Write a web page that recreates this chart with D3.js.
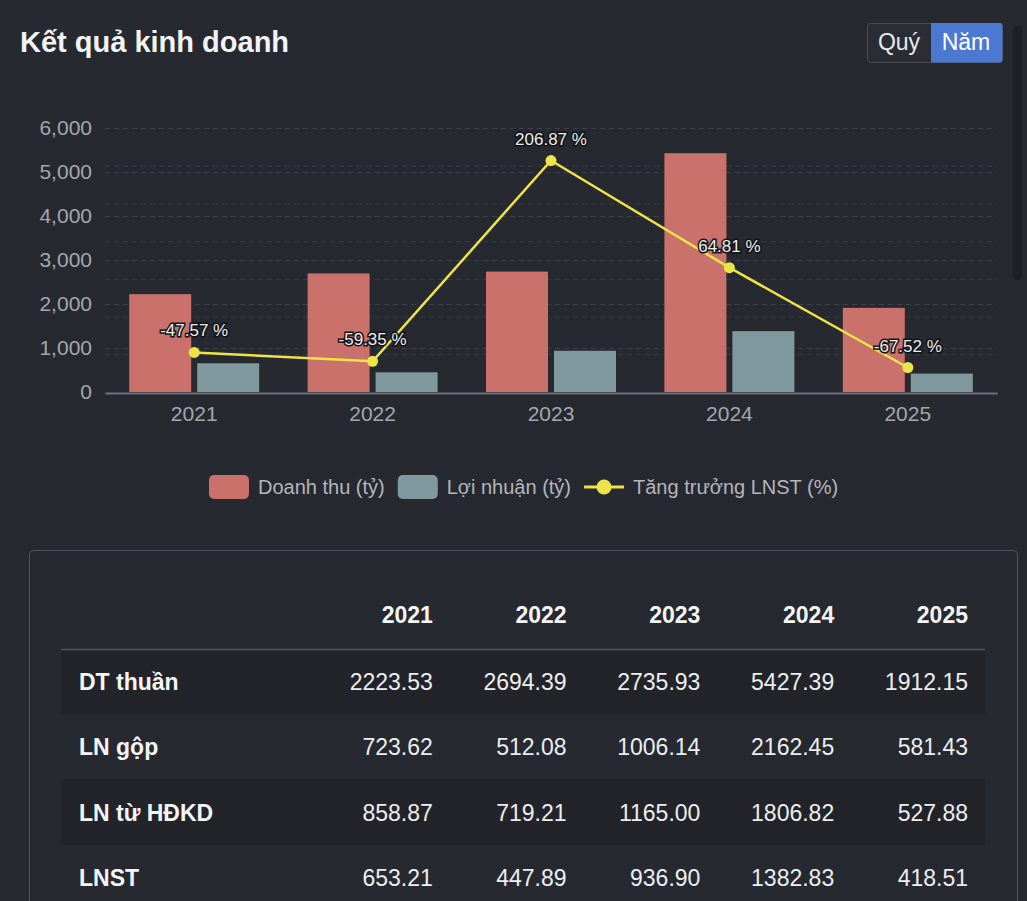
<!DOCTYPE html>
<html>
<head>
<meta charset="utf-8">
<script src="https://cdn.jsdelivr.net/npm/d3@7/dist/d3.min.js"></script>
<style>
  html, body { margin: 0; padding: 0; background: #262930; overflow: hidden; }
  svg { display: block; font-family: "Liberation Sans", Arial, sans-serif; }
</style>
</head>
<body>
<div id="chart"></div>
<script>
// data
const years = ["2021", "2022", "2023", "2024", "2025"];
const revenue = [2223.53, 2694.39, 2735.93, 5427.39, 1912.15];
const profit = [653.21, 447.89, 936.90, 1382.83, 418.51];
const growth = [-47.57, -59.35, 206.87, 64.81, -67.52];
const grossProfit = [723.62, 512.08, 1006.14, 2162.45, 581.43];
const opProfit = [858.87, 719.21, 1165.00, 1806.82, 527.88];
const yTicks = [0, 1000, 2000, 3000, 4000, 5000, 6000];
const growthTicks = [-100, -50, 0, 50, 100, 150, 200, 250];
const legendLabels = ["Doanh thu (tỷ)", "Lợi nhuận (tỷ)", "Tăng trưởng LNST (%)"];
const rowLabels = ["DT thuần", "LN gộp", "LN từ HĐKD", "LNST"];
const rowValues = [revenue, grossProfit, opProfit, profit];

const W = 1027, H = 901;
const RED = "#c9716a", GREY = "#7f999f", YEL = "#ede548";

var svg = d3.select("#chart").append("svg")
    .attr("width", W)
    .attr("height", H);

// title + buttons
svg.append("text")
  .attr("x", 20).attr("y", 52)
  .attr("fill", "#f2f3f5")
  .attr("font-size", 29).attr("font-weight", "bold")
  .text("Kết quả kinh doanh");

svg.append("rect")
  .attr("x", 867.5).attr("y", 23.5).attr("width", 135).attr("height", 39).attr("rx", 3)
  .attr("fill", "#2a2d34").attr("stroke", "#4a4d55");
svg.append("path")
  .attr("d", "M931,23 H999.5 A3,3 0 0 1 1002.5,26 V59.5 A3,3 0 0 1 999.5,62.5 H931 Z")
  .attr("fill", "#4b79d1");
svg.append("text").attr("x", 899).attr("y", 50).attr("text-anchor", "middle")
  .attr("fill", "#e8e9eb").attr("font-size", 23).text("Quý");
svg.append("text").attr("x", 966).attr("y", 50).attr("text-anchor", "middle")
  .attr("fill", "#ffffff").attr("font-size", 23).text("Năm");

// scrollbar strip
svg.append("rect")
  .attr("x", 1013).attr("y", 26).attr("width", 9).attr("height", 254).attr("rx", 4)
  .attr("fill", "#1d1f24");

// scales
var x = d3.scaleBand().domain(years).range([105, 997]);
var y = d3.scaleLinear().domain([0, 6000]).range([392, 128]);
var yR = d3.scaleLinear().domain([-100, 250]).range([392, 128]);

// gridlines (both axes)
var grid = svg.append("g");
grid.selectAll("line.r").data(growthTicks.slice(1)).enter().append("line")
  .attr("x1", 105).attr("x2", 997)
  .attr("y1", d => yR(d) + 0.5).attr("y2", d => yR(d) + 0.5)
  .attr("stroke", "#393c44").attr("stroke-dasharray", "5,4");
grid.selectAll("line.l").data(yTicks.slice(1)).enter().append("line")
  .attr("x1", 105).attr("x2", 997)
  .attr("y1", d => y(d) + 0.5).attr("y2", d => y(d) + 0.5)
  .attr("stroke", "#3d4048").attr("stroke-dasharray", "5,4");

// y axis labels
var yAxis = svg.append("g")
  .attr("transform", "translate(105,0)")
  .call(d3.axisLeft(y).tickValues(yTicks).tickSize(0).tickPadding(13).tickFormat(d3.format(",")));
yAxis.select(".domain").remove();
yAxis.selectAll("text")
  .attr("fill", "#a4a7ae").attr("font-size", 21)
  .attr("font-family", "Liberation Sans, Arial, sans-serif");

// bars
svg.append("g").selectAll("rect").data(revenue).enter().append("rect")
  .attr("x", (d, i) => x(years[i]) + x.bandwidth() / 2 - 65)
  .attr("y", d => y(d))
  .attr("width", 62)
  .attr("height", d => y(0) - y(d))
  .attr("fill", RED);
svg.append("g").selectAll("rect").data(profit).enter().append("rect")
  .attr("x", (d, i) => x(years[i]) + x.bandwidth() / 2 + 3)
  .attr("y", d => y(d))
  .attr("width", 62)
  .attr("height", d => y(0) - y(d))
  .attr("fill", GREY);

// x axis
var xAxis = svg.append("g")
  .attr("transform", "translate(0,393)")
  .call(d3.axisBottom(x).tickSize(0).tickPadding(13));
xAxis.select(".domain").attr("stroke", "#70737c").attr("stroke-width", 2);
xAxis.selectAll("text")
  .attr("fill", "#a4a7ae").attr("font-size", 21)
  .attr("font-family", "Liberation Sans, Arial, sans-serif");

// growth line
var line = d3.line()
  .x((d, i) => x(years[i]) + x.bandwidth() / 2)
  .y(d => yR(d));
svg.append("path")
  .attr("d", line(growth))
  .attr("fill", "none")
  .attr("stroke", YEL)
  .attr("stroke-width", 2.5);
svg.append("g").selectAll("circle").data(growth).enter().append("circle")
  .attr("cx", (d, i) => x(years[i]) + x.bandwidth() / 2)
  .attr("cy", d => yR(d))
  .attr("r", 5.5)
  .attr("fill", YEL);
svg.append("g").selectAll("text").data(growth).enter().append("text")
  .attr("x", (d, i) => x(years[i]) + x.bandwidth() / 2)
  .attr("y", d => yR(d) - 16)
  .attr("text-anchor", "middle")
  .attr("font-size", 17)
  .attr("fill", "#eeeeee")
  .attr("stroke", "#111317")
  .attr("stroke-width", 3)
  .attr("paint-order", "stroke")
  .text(d => d.toFixed(2) + " %");

// legend
var legend = svg.append("g").attr("transform", "translate(0,487)");
var lx = 209;
legendLabels.forEach(function(lbl, i) {
  var g = legend.append("g").attr("transform", "translate(" + lx + ",0)");
  if (i < 2) {
    g.append("rect").attr("x", 0).attr("y", -12).attr("width", 40).attr("height", 24).attr("rx", 5)
      .attr("fill", i == 0 ? RED : GREY);
  } else {
    g.append("line").attr("x1", 0).attr("x2", 40).attr("y1", 0).attr("y2", 0)
      .attr("stroke", YEL).attr("stroke-width", 3);
    g.append("circle").attr("cx", 20).attr("cy", 0).attr("r", 7.5).attr("fill", YEL);
  }
  var t = g.append("text").attr("x", 49).attr("y", 7)
    .attr("font-size", 20).attr("fill", "#b3b6bd").text(lbl);
  lx += 49 + t.node().getComputedTextLength() + 13;
});

// table card
svg.append("rect")
  .attr("x", 29.5).attr("y", 550.5).attr("width", 988).attr("height", 420).attr("rx", 4)
  .attr("fill", "none").attr("stroke", "#50535b");

var col = d3.scaleBand().domain(years).range([299, 968]);
var row = d3.scaleBand().domain(rowLabels).range([649, 910]);

svg.append("g").selectAll("rect").data(rowLabels.filter((d, i) => i % 2 == 0)).enter().append("rect")
  .attr("x", 61).attr("width", 924)
  .attr("y", d => row(d)).attr("height", row.bandwidth())
  .attr("fill", "#22242a");

svg.append("line").attr("x1", 61).attr("x2", 985).attr("y1", 649.5).attr("y2", 649.5)
  .attr("stroke", "#4f525a").attr("stroke-width", 1.5);

svg.append("g").selectAll("text").data(years).enter().append("text")
  .attr("x", d => col(d) + col.bandwidth())
  .attr("y", 623)
  .attr("text-anchor", "end")
  .attr("font-size", 23).attr("font-weight", "bold")
  .attr("fill", "#f4f5f6")
  .text(d => d);

var rows = svg.append("g").selectAll("g").data(rowLabels).enter().append("g")
  .attr("transform", d => "translate(0," + (row(d) + 41) + ")");
rows.append("text")
  .attr("x", 79)
  .attr("font-size", 23).attr("font-weight", "bold")
  .attr("fill", "#f4f5f6")
  .text(d => d);
rows.each(function(d, ri) {
  d3.select(this).selectAll("text.v").data(rowValues[ri]).enter().append("text")
    .attr("class", "v")
    .attr("x", (v, i) => col(years[i]) + col.bandwidth())
    .attr("text-anchor", "end")
    .attr("font-size", 23)
    .attr("fill", "#eceef0")
    .text(v => v.toFixed(2));
});
</script>
</body>
</html>
